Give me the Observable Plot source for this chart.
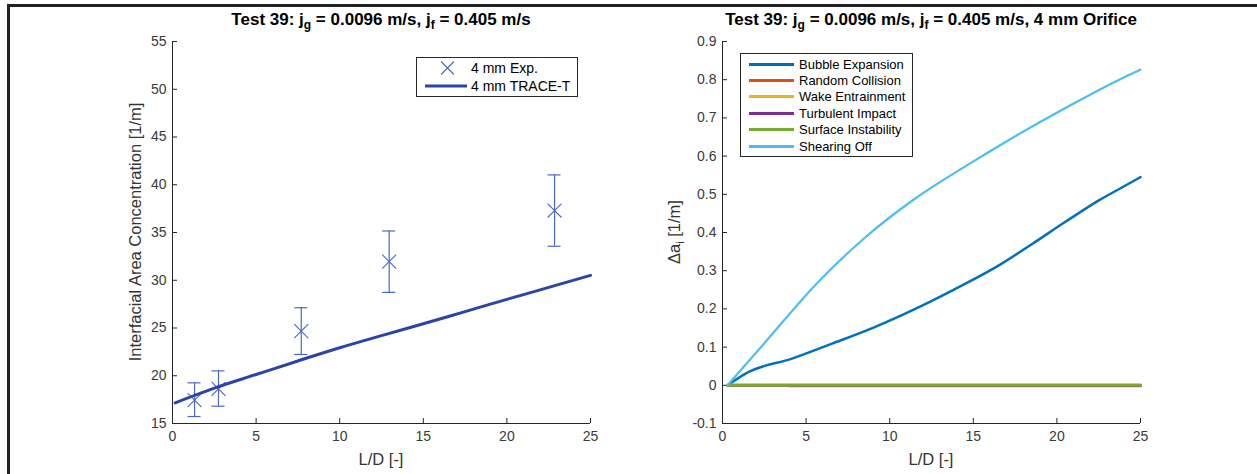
<!DOCTYPE html>
<html><head><meta charset="utf-8">
<script src="https://cdn.jsdelivr.net/npm/d3@7"></script>
<script src="https://cdn.jsdelivr.net/npm/@observablehq/plot@0.6"></script>
<style>
html,body{margin:0;padding:0;background:#fff;}
#fig{position:relative;width:1257px;height:474px;overflow:hidden;background:#fff;font-family:"Liberation Sans",Arial,Helvetica,sans-serif;color:#262626;}
#fig svg{position:absolute;top:0;}
.t{position:absolute;white-space:nowrap;}
.title{font-weight:bold;font-size:17px;color:#000;transform:translate(-50%,-50%);}
.title sub{font-size:12px;vertical-align:-4px;line-height:0;}
.xl{font-size:16.5px;transform:translate(-50%,-50%);color:#333;}
.yl{font-size:16.5px;transform:translate(-50%,-50%) rotate(-90deg);color:#333;}
.yl sub{font-size:11px;vertical-align:-4px;line-height:0;}
.leg{position:absolute;border:1px solid #262626;background:#fff;color:#000;box-sizing:border-box;}
.row{position:absolute;white-space:nowrap;}
.row svg{position:absolute;left:0;}
.row span{position:absolute;top:0;}
.frame{position:absolute;background:#222;}
</style></head><body><div id="fig"></div>
<script>
// ---------- data ----------
const xTicks = [0, 5, 10, 15, 20, 25];
const yTicksLeft = [15, 20, 25, 30, 35, 40, 45, 50, 55];
const yTicksRight = [-0.1, 0, 0.1, 0.2, 0.3, 0.4, 0.5, 0.6, 0.7, 0.8, 0.9];

// left panel: experiment (4 mm Exp.)
const expLD = [1.32, 2.75, 7.70, 12.96, 22.85];
const expAi = [17.45, 18.62, 24.68, 31.95, 37.30];
const expLo = [15.73, 16.81, 22.23, 28.73, 33.56];
const expHi = [19.26, 20.51, 27.12, 35.16, 41.03];

// left panel: 4 mm TRACE-T
const traceLD = [0.16, 2.5, 5, 7.5, 10, 12.5, 15, 17.5, 20, 22.5, 25];
const traceAi = [17.16, 18.70, 20.13, 21.55, 22.93, 24.20, 25.44, 26.72, 28.00, 29.25, 30.51];

// right panel: mechanisms
const seriesNames = ["Bubble Expansion", "Random Collision", "Wake Entrainment", "Turbulent Impact", "Surface Instability", "Shearing Off"];
const seriesColors = ["#0072BD", "#D95319", "#EDB120", "#7E2F8E", "#77AC30", "#4DBEEE"];

const bubbleLD = [0.3, 1.57, 4.16, 6.55, 9.14, 11.53, 14.13, 16.53, 18.52, 20.51, 22.51, 24.1, 25];
const bubbleDa = [0, 0.035, 0.070, 0.109, 0.153, 0.200, 0.257, 0.314, 0.370, 0.428, 0.484, 0.523, 0.545];

const collisionLD = [0.3, 4.0, 4.0, 25];
const collisionDa = [0, 0, -0.002, -0.002];

const wakeLD = [0.3, 25];
const wakeDa = [0, 0];

const turbLD = [0.3, 25];
const turbDa = [0, 0];

const surfLD = [0.3, 25];
const surfDa = [0.0005, 0.0005];

const shearLD = [0.3, 2.54, 5.54, 8.53, 11.53, 14.52, 17.51, 20.51, 24.1, 25];
const shearDa = [0, 0.112, 0.262, 0.387, 0.489, 0.573, 0.652, 0.726, 0.808, 0.826];

// ---------- helpers ----------
const fig = document.getElementById("fig");
const axisColor = "#262626";
const font = "Liberation Sans, Arial, Helvetica, sans-serif";
const pts = (xs, ys) => xs.map((x, i) => ({x, y: ys[i]}));

function axisMarks(yTicks, yMin, plotW, plotH, fmt) {
  return [
    Plot.ruleX([0], {stroke: axisColor, strokeWidth: 1}),
    Plot.ruleY([yMin], {stroke: axisColor, strokeWidth: 1}),
    Plot.tickX(xTicks, {x: d => d, insetTop: plotH - 5, stroke: axisColor}),
    Plot.tickY(yTicks, {y: d => d, insetRight: plotW - 5, stroke: axisColor}),
    Plot.axisX(xTicks, {tickSize: 0, tickPadding: 8, label: null, fill: "#3a3a3a"}),
    Plot.axisY(yTicks, {tickSize: 0, tickPadding: 6, label: null, fill: "#3a3a3a", tickFormat: fmt})
  ];
}

function place(svg, left) {
  svg.style.left = left + "px";
  fig.appendChild(svg);
}

// ---------- left panel ----------
const L = {left: 0, width: 630, mL: 172, mR: 40, mT: 41, mB: 51};
const H = 474;
const lW = L.width - L.mL - L.mR, lH = H - L.mT - L.mB;
const capHalf = 6.5 / (lW / 25);
const markColor = "#4c66c6";
const traceColor = "#2a44a8";
const exp = expLD.map((x, i) => ({x, y: expAi[i], lo: expLo[i], hi: expHi[i]}));

const left = Plot.plot({
  width: L.width, height: H,
  marginLeft: L.mL, marginRight: L.mR, marginTop: L.mT, marginBottom: L.mB,
  x: {domain: [0, 25]},
  y: {domain: [15, 55]},
  style: {fontFamily: font, fontSize: "14px", background: "transparent", overflow: "visible"},
  marks: [
    ...axisMarks(yTicksLeft, 15, lW, lH, d => String(d)),
    Plot.ruleX(exp, {x: "x", y1: "lo", y2: "hi", stroke: markColor, strokeWidth: 1.2}),
    Plot.ruleY(exp, {y: "hi", x1: d => d.x - capHalf, x2: d => d.x + capHalf, stroke: markColor, strokeWidth: 1.2}),
    Plot.ruleY(exp, {y: "lo", x1: d => d.x - capHalf, x2: d => d.x + capHalf, stroke: markColor, strokeWidth: 1.2}),
    Plot.dot(exp, {x: "x", y: "y", symbol: "times", r: 6.4, stroke: markColor, strokeWidth: 1.1}),
    Plot.line(pts(traceLD, traceAi), {x: "x", y: "y", stroke: traceColor, strokeWidth: 3, curve: "monotone-x"})
  ]
});
place(left, L.left);

// ---------- right panel ----------
const R = {left: 630, width: 627, mL: 92, mR: 117, mT: 41, mB: 51};
const rW = R.width - R.mL - R.mR, rH = H - R.mT - R.mB;
const rightSeries = [
  [bubbleLD, bubbleDa, 2.5, "monotone-x"],
  [collisionLD, collisionDa, 2.5, "linear"],
  [wakeLD, wakeDa, 2.5, "linear"],
  [turbLD, turbDa, 2.5, "linear"],
  [surfLD, surfDa, 3, "linear"],
  [shearLD, shearDa, 2.2, "monotone-x"]
];
const right = Plot.plot({
  width: R.width, height: H,
  marginLeft: R.mL, marginRight: R.mR, marginTop: R.mT, marginBottom: R.mB,
  x: {domain: [0, 25]},
  y: {domain: [-0.1, 0.9]},
  style: {fontFamily: font, fontSize: "14px", background: "transparent", overflow: "visible"},
  marks: [
    ...axisMarks(yTicksRight, -0.1, rW, rH, d => d === 0 ? "0" : d.toFixed(1)),
    ...rightSeries.map(([xs, ys, sw, curve], i) =>
      Plot.line(pts(xs, ys), {x: "x", y: "y", stroke: seriesColors[i], strokeWidth: sw, curve}))
  ]
});
place(right, R.left);

// ---------- frame ----------
function div(cls, style, html) {
  const d = document.createElement("div");
  d.className = cls;
  Object.assign(d.style, style);
  if (html !== undefined) d.innerHTML = html;
  fig.appendChild(d);
  return d;
}
div("frame", {left: "7px", top: "4px", width: "1250px", height: "3px"});
div("frame", {left: "7px", top: "4px", width: "3px", height: "470px"});

// ---------- titles & labels ----------
const lCx = L.left + L.mL + lW / 2;
const rCx = R.left + R.mL + rW / 2;
div("t title", {left: lCx + "px", top: "20px"}, "Test 39: j<sub>g</sub> = 0.0096 m/s, j<sub>f</sub> = 0.405 m/s");
div("t title", {left: rCx + "px", top: "20px"}, "Test 39: j<sub>g</sub> = 0.0096 m/s, j<sub>f</sub> = 0.405 m/s, 4 mm Orifice");
div("t xl", {left: lCx + "px", top: "459px"}, "L/D [-]");
div("t xl", {left: rCx + "px", top: "459px"}, "L/D [-]");
div("t yl", {left: "135px", top: (L.mT + lH / 2) + "px"}, "Interfacial Area Concentration [1/m]");
div("t yl", {left: "674px", top: (R.mT + rH / 2) + "px"}, "&Delta;a<sub>i</sub> [1/m]");

// ---------- legends ----------
function legend(box, rows) {
  const lg = div("leg", {left: box.x + "px", top: box.y + "px", width: box.w + "px", height: box.h + "px", fontSize: box.fs + "px"});
  rows.forEach((r, i) => {
    const row = document.createElement("div");
    row.className = "row";
    const lh = Math.round(box.fs * 1.15);
    row.style.left = "0px";
    row.style.top = (box.first + i * box.step - lh / 2) + "px";
    row.style.width = box.w + "px";
    row.style.height = lh + "px";
    row.style.lineHeight = lh + "px";
    row.innerHTML = `<svg width="${box.textX}" height="${lh}" style="top:0">${r.swatch(lh / 2)}</svg><span style="left:${box.textX}px">${r.label}</span>`;
    lg.appendChild(row);
  });
}
legend({x: 416, y: 57, w: 162, h: 40, first: 10, step: 18, textX: 54, fs: 14}, [
  {label: "4 mm Exp.", swatch: c => `<path d="M24,${c - 6.5} L37,${c + 6.5} M24,${c + 6.5} L37,${c - 6.5}" stroke="${markColor}" stroke-width="1.1" fill="none"/>`},
  {label: "4 mm TRACE-T", swatch: c => `<line x1="8" x2="50" y1="${c}" y2="${c}" stroke="${traceColor}" stroke-width="3"/>`}
]);
legend({x: 740, y: 53, w: 173, h: 104, first: 10, step: 16.4, textX: 58, fs: 13}, seriesNames.map((n, i) => ({
  label: n, swatch: c => `<line x1="8" x2="53" y1="${c}" y2="${c}" stroke="${seriesColors[i]}" stroke-width="3"/>`
})));
</script></body></html>
